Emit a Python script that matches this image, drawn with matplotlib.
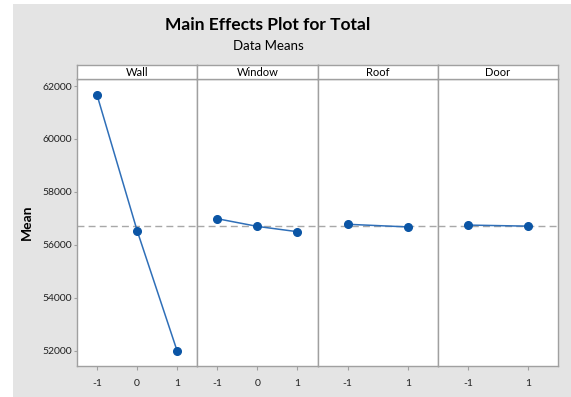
import matplotlib.pyplot as plt
from matplotlib.patches import Rectangle

# factor names and level means (grand mean shown as dashed reference)
factors = ['Wall', 'Window', 'Roof', 'Door']
levels = [[-1, 0, 1], [-1, 0, 1], [-1, 1], [-1, 1]]
means = [[61660, 56540, 51990],
         [56990, 56700, 56500],
         [56780, 56680],
         [56750, 56710]]
grand_mean = 56730
yticks = [52000, 54000, 56000, 58000, 60000, 62000]

plt.rcParams['font.family'] = ['Lato', 'DejaVu Sans']
plt.rcParams['axes.unicode_minus'] = False

W, H = 571, 397
fig = plt.figure(figsize=(W / 100, H / 100), dpi=100, facecolor='white')
fig.patches.append(Rectangle((13 / W, 0), 1 - 13 / W, 1 - 4 / H, transform=fig.transFigure,
                             facecolor='#e4e4e4', edgecolor='none', zorder=-10))

frame = '#a0a0a0'
line_col = '#2f6fb8'
dot_col = '#0b55a5'

left, right = 77, 558
top, bottom = 79, 366
strip_top = 65
pw = (right - left) / len(factors)

for i, name in enumerate(factors):
    x0 = left + i * pw
    ax = fig.add_axes([x0 / W, 1 - bottom / H, pw / W, (bottom - top) / H])
    ax.set_facecolor('white')
    ax.plot(levels[i], means[i], color=line_col, lw=1.1, zorder=3)
    ax.plot(levels[i], means[i], 'o', color=dot_col, ms=5.5, zorder=4)
    ax.axhline(grand_mean, color='#a8a8a8', lw=1, ls=(0, (5, 3)), zorder=2)
    if len(levels[i]) == 3:
        ax.set_xlim(-1.5, 1.5)
    else:
        ax.set_xlim(-2, 2)
    ax.set_xticks(levels[i])
    ax.set_ylim(51430, 62265)
    ax.set_yticks(yticks)
    for s in ax.spines.values():
        s.set_color(frame)
        s.set_linewidth(1)
    ax.tick_params(axis='x', colors=frame, labelcolor='#222222', labelsize=7.5,
                   length=3, pad=6)
    ax.tick_params(axis='y', colors=frame, labelcolor='#222222', labelsize=7.5,
                   length=2.5, pad=1)
    if i == 0:
        ax.set_ylabel('Mean', fontsize=10, fontweight='bold', labelpad=7)
    else:
        ax.tick_params(axis='y', left=False, labelleft=False)

    # factor name strip above the panel
    sx = fig.add_axes([x0 / W, 1 - top / H, pw / W, (top - strip_top) / H])
    sx.set_facecolor('white')
    sx.set_xticks([])
    sx.set_yticks([])
    for s in sx.spines.values():
        s.set_color(frame)
        s.set_linewidth(1)
    sx.text(0.5, 0.45, name, ha='center', va='center', fontsize=8, transform=sx.transAxes)

fig.text(268 / W, 1 - 25 / H, 'Main Effects Plot for Total', ha='center', va='center',
         fontsize=12.5, fontweight='bold')
fig.text(268 / W, 1 - 46 / H, 'Data Means', ha='center', va='center', fontsize=9.5)

fig.savefig('out.png', dpi=100)
